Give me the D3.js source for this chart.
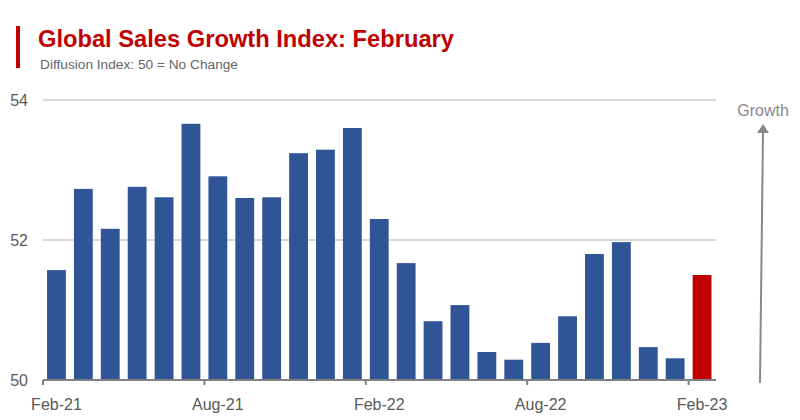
<!DOCTYPE html>
<html>
<head>
<meta charset="utf-8">
<script src="https://cdn.jsdelivr.net/npm/d3@7/dist/d3.min.js"></script>
<style>
  body { margin: 0; background: #fff; }
  svg { font-family: "Liberation Sans", Arial, sans-serif; }
</style>
</head>
<body>
<svg id="chart" width="800" height="420"></svg>
<script>
// monthly index, Feb-21 .. Feb-23
var months = ["Feb-21","Mar-21","Apr-21","May-21","Jun-21","Jul-21","Aug-21","Sep-21","Oct-21","Nov-21","Dec-21","Jan-22",
              "Feb-22","Mar-22","Apr-22","May-22","Jun-22","Jul-22","Aug-22","Sep-22","Oct-22","Nov-22","Dec-22","Jan-23","Feb-23"];
var values = [51.57, 52.73, 52.16, 52.76, 52.61, 53.66, 52.91, 52.60, 52.61, 53.24, 53.29, 53.60,
              52.30, 51.67, 50.84, 51.07, 50.40, 50.29, 50.53, 50.91, 51.80, 51.97, 50.47, 50.31, 51.50];
var xTickLabels = ["Feb-21", "Aug-21", "Feb-22", "Aug-22", "Feb-23"];
var yTicks = [50, 52, 54];

var svg = d3.select("#chart");

var x = d3.scaleBand().domain(months).range([43, 715.5]).paddingInner(0.3).paddingOuter(0.15);
var y = d3.scaleLinear().domain([50, 54]).range([380, 100]);
var bandLeft = function (m) { return x(m) - x.step() * x.paddingInner() / 2; };

// title block
svg.append("rect").attr("x", 16).attr("y", 26).attr("width", 4).attr("height", 42).attr("fill", "#c00000");
svg.append("text").attr("x", 38).attr("y", 47)
    .attr("font-size", 23.7).attr("font-weight", "bold").attr("fill", "#c00000")
    .text("Global Sales Growth Index: February");
svg.append("text").attr("x", 40).attr("y", 69)
    .attr("font-size", 13.7).attr("fill", "#666")
    .text("Diffusion Index: 50 = No Change");

// gridlines
svg.append("g").selectAll("line").data(yTicks.filter(function (d) { return d > 50; })).join("line")
    .attr("x1", 43).attr("x2", 716)
    .attr("y1", function (d) { return y(d); }).attr("y2", function (d) { return y(d); })
    .attr("stroke", "#d9d9d9").attr("stroke-width", 2);

// y labels
var yAxis = svg.append("g").attr("transform", "translate(28,0)")
    .call(d3.axisLeft(y).tickValues(yTicks).tickFormat(d3.format("d")).tickSize(0).tickPadding(0));
yAxis.select(".domain").remove();
yAxis.selectAll("text").attr("font-size", 16).attr("fill", "#595959").attr("font-family", null);

// bars
svg.append("g").selectAll("rect").data(values).join("rect")
    .attr("x", function (d, i) { return x(months[i]); })
    .attr("width", x.bandwidth())
    .attr("y", function (d) { return y(d); })
    .attr("height", function (d) { return y(50) - y(d); })
    .attr("fill", function (d, i) { return i === values.length - 1 ? "#c00000" : "#2f5597"; });

// x axis
var xAxis = svg.append("g").attr("transform", "translate(0," + y(50) + ")")
    .call(d3.axisBottom(x).tickValues(xTickLabels).tickSize(0).tickPadding(19));
xAxis.select(".domain").remove();
xAxis.selectAll("text").attr("font-size", 16).attr("fill", "#595959").attr("font-family", null);

svg.append("line").attr("x1", 43).attr("x2", 716).attr("y1", y(50)).attr("y2", y(50))
    .attr("stroke", "#808080").attr("stroke-width", 2);
svg.append("g").selectAll("line").data(xTickLabels).join("line")
    .attr("x1", bandLeft).attr("x2", bandLeft)
    .attr("y1", y(50)).attr("y2", y(50) + 5)
    .attr("stroke", "#808080").attr("stroke-width", 2);

// growth arrow
svg.append("line").attr("x1", 760).attr("y1", 383).attr("x2", 763).attr("y2", 132)
    .attr("stroke", "#888").attr("stroke-width", 2);
svg.append("path").attr("d", "M763,124 L757,133 L769,133 Z").attr("fill", "#888");
svg.append("text").attr("x", 763).attr("y", 116).attr("text-anchor", "middle")
    .attr("font-size", 16).attr("fill", "#888").text("Growth");
</script>
</body>
</html>
